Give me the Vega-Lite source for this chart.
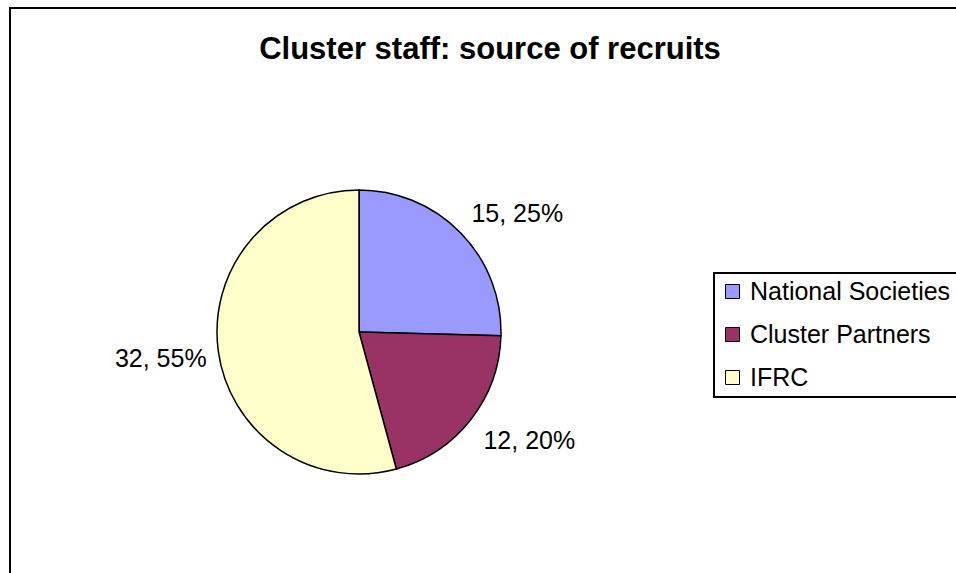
{
  "$schema": "https://vega.github.io/schema/vega-lite/v6.json",
  "autosize": {"type": "none"},
  "width": 960,
  "height": 580,
  "padding": {"left": 10, "top": 8, "right": 0, "bottom": 0},
  "background": "white",
  "view": {"stroke": "black", "strokeWidth": 2, "fill": "white"},
  "config": {
    "font": "Liberation Sans",
    "view": {"stroke": "black", "strokeWidth": 2}
  },
  "title": {
    "text": "Cluster staff: source of recruits",
    "font": "Liberation Sans",
    "fontSize": 31,
    "fontWeight": "bold",
    "color": "black",
    "anchor": "middle",
    "frame": "group",
    "orient": "top",
    "baseline": "alphabetic",
    "offset": -82
  },
  "data": {
    "values": [
      {"source": "National Societies", "count": 15, "label": "15, 25%", "idx": 1},
      {"source": "Cluster Partners", "count": 12, "label": "12, 20%", "idx": 2},
      {"source": "IFRC", "count": 32, "label": "32, 55%", "idx": 3}
    ]
  },
  "encoding": {
    "theta": {"field": "count", "type": "quantitative", "stack": true},
    "order": {"field": "idx", "type": "quantitative"}
  },
  "layer": [
    {
      "mark": {"type": "arc", "stroke": "black", "strokeWidth": 1.5, "x": 349, "y": 324, "outerRadius": 142},
      "encoding": {
        "color": {
          "field": "source",
          "type": "nominal",
          "sort": ["National Societies", "Cluster Partners", "IFRC"],
          "scale": {"domain": ["National Societies", "Cluster Partners", "IFRC"], "range": ["#9999FF", "#993366", "#FFFFCC"]},
          "legend": {
            "title": null,
            "orient": "none",
            "legendX": 704,
            "legendY": 265,
            "direction": "vertical",
            "strokeColor": "black",
            "fillColor": "white",
            "padding": 6,
            "symbolType": "square",
            "symbolSize": 196,
            "symbolStrokeColor": "black",
            "symbolStrokeWidth": 1,
            "symbolOpacity": 1,
            "labelFont": "Liberation Sans",
            "labelFontSize": 25,
            "labelColor": "black",
            "labelOffset": 5,
            "rowPadding": 17,
            "labelLimit": 400,
            "encode": {"legend": {"update": {"strokeWidth": {"value": 2}}}}
          }
        }
      }
    },
    {
      "mark": {"type": "text", "x": 349, "y": 324, "radius": 200, "dx": 15, "dy": 22, "font": "Liberation Sans", "fontSize": 25, "color": "black", "align": "center", "baseline": "middle"},
      "encoding": {"text": {"condition": {"test": "datum.idx == 1", "field": "label"}, "value": ""}}
    },
    {
      "mark": {"type": "text", "x": 349, "y": 324, "radius": 200, "dx": 13, "dy": -15, "font": "Liberation Sans", "fontSize": 25, "color": "black", "align": "center", "baseline": "middle"},
      "encoding": {"text": {"condition": {"test": "datum.idx == 2", "field": "label"}, "value": ""}}
    },
    {
      "mark": {"type": "text", "x": 349, "y": 324, "radius": 200, "font": "Liberation Sans", "fontSize": 25, "color": "black", "align": "center", "baseline": "middle"},
      "encoding": {"text": {"condition": {"test": "datum.idx == 3", "field": "label"}, "value": ""}}
    }
  ]
}
